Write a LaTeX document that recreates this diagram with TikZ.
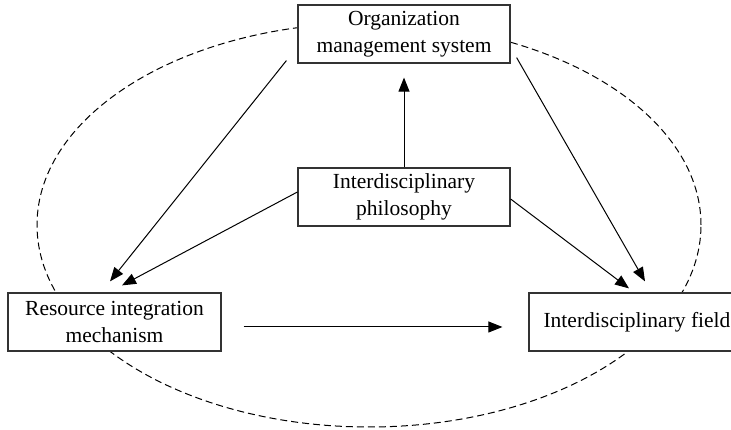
\documentclass[tikz,border=0pt]{standalone}
\usepackage{fontspec}
\setmainfont{Liberation Serif}
\usetikzlibrary{arrows.meta}

\begin{document}
\begin{tikzpicture}[x=1pt,y=1pt,
    box/.style={draw=black!80,line width=1.2pt,fill=white,align=center,
      minimum width=212pt,minimum height=58pt,inner sep=0pt,
      font=\fontsize{21.5}{27}\selectfont},
    link/.style={line width=1pt,-{Triangle[length=14pt,width=11pt]}}]
  \clip (0,0) rectangle (731,430);
  \coordinate (mid) at (369,205);
  \draw[dash pattern=on 7pt off 4pt,line width=1pt] (mid) ellipse [x radius=332pt,y radius=202pt];
  \node[box] (org) at (404,396) {Organization\\management system};
  \node[box] (phil) at (404,233) {Interdisciplinary\\philosophy};
  \node[box,minimum width=213pt] (res) at (114.5,108) {Resource integration\\mechanism};
  \node[box,minimum width=216pt] (field) at (637,108) {Interdisciplinary field};
  \draw[link] (phil.north) -- ([yshift=-14pt]org.south);
  \draw[link] ([xshift=-11pt,yshift=3pt]org.south west) -- ([xshift=-4.5pt,yshift=11pt]res.north);
  \draw[link] ([yshift=5pt]phil.west) -- ([xshift=7.5pt,yshift=7pt]res.north);
  \draw[link] ([yshift=-2pt]phil.east) -- ([xshift=-8pt,yshift=4pt]field.north);
  \draw[link] ([xshift=6pt,yshift=6pt]org.south east) -- ([xshift=8pt,yshift=11pt]field.north);
  \draw[link] ([xshift=22pt,yshift=-5pt]res.east) -- ([xshift=-26pt,yshift=-5pt]field.west);
\end{tikzpicture}
\end{document}
